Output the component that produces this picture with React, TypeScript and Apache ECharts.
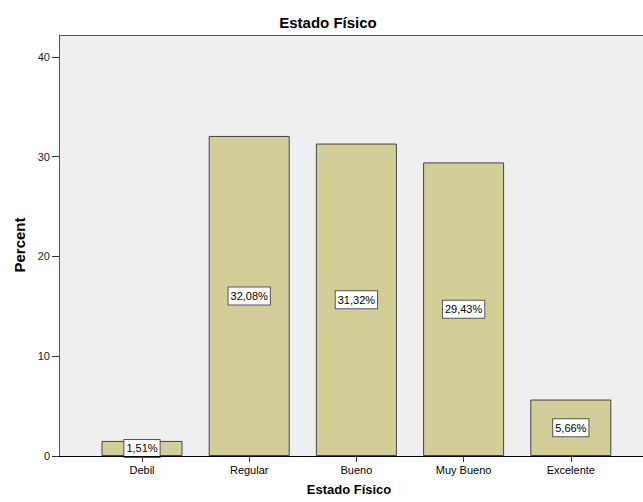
import React, { useEffect, useRef } from "react";
import * as echarts from "echarts";

const categories = ["Debil", "Regular", "Bueno", "Muy Bueno", "Excelente"];
const percents = [1.51, 32.08, 31.32, 29.43, 5.66];
const yTicks = [0, 10, 20, 30, 40];
const chartTitle = "Estado Físico";
const xName = "Estado Físico";
const yName = "Percent";

const FONT = "'Liberation Sans', Arial, sans-serif";

export default function App() {
  const ref = useRef<HTMLDivElement>(null);
  useEffect(() => {
    document.body.style.margin = "0";
    const chart = echarts.init(ref.current!, null, { renderer: "svg" });
    const W = 643;
    const H = 502;
    const plotLeft = 59;
    const plotTop = 35;
    const plotBottom = 456;
    chart.setOption({
      animation: false,
      backgroundColor: "#ffffff",
      textStyle: { fontFamily: FONT },
      title: {
        text: chartTitle,
        left: 323,
        top: 10,
        textAlign: "center",
        textStyle: { fontFamily: FONT, fontWeight: "bold", fontSize: 15, color: "#000" },
      },
      graphic: [
        {
          type: "rect",
          z: -10,
          shape: { x: plotLeft, y: plotTop, width: W - plotLeft, height: plotBottom - plotTop },
          style: { fill: "#efefef" },
          silent: true,
        },
        {
          type: "line",
          z: 10,
          shape: { x1: plotLeft, y1: plotTop + 0.5, x2: W, y2: plotTop + 0.5 },
          style: { stroke: "#555555", lineWidth: 1 },
          silent: true,
        },
        {
          type: "line",
          z: 10,
          shape: { x1: plotLeft, y1: plotBottom + 0.5, x2: W, y2: plotBottom + 0.5 },
          style: { stroke: "#000000", lineWidth: 1 },
          silent: true,
        },
        {
          type: "text",
          x: 349,
          y: 489,
          style: {
            text: xName,
            fontFamily: FONT,
            fontWeight: "bold",
            fontSize: 13,
            fill: "#000",
            align: "center",
            verticalAlign: "middle",
          },
        },
        {
          type: "text",
          x: 19,
          y: 245,
          rotation: Math.PI / 2,
          style: {
            text: yName,
            fontFamily: FONT,
            fontWeight: "bold",
            fontSize: 15,
            fill: "#000",
            align: "center",
            verticalAlign: "middle",
          },
        },
      ],
      grid: { left: 88.4, right: W - 624.4, top: plotTop, bottom: H - plotBottom, containLabel: false },
      xAxis: {
        type: "category",
        data: categories,
        axisLine: { show: true, lineStyle: { color: "#000", width: 1 } },
        axisTick: { show: true, alignWithLabel: true, length: 6, lineStyle: { color: "#333" } },
        axisLabel: { color: "#000", fontSize: 11, fontFamily: FONT, margin: 8, interval: 0 },
        splitLine: { show: false },
      },
      yAxis: {
        type: "value",
        min: 0,
        max: 42.2,
        interval: 10,
        offset: 88.4 - plotLeft,
        axisLine: { show: true, lineStyle: { color: "#555", width: 1 } },
        axisTick: { show: true, length: 7, customValues: yTicks, lineStyle: { color: "#333" } },
        axisLabel: {
          color: "#222",
          fontSize: 11,
          fontFamily: FONT,
          margin: 9,
          customValues: yTicks,
        },
        splitLine: { show: false },
      },
      series: [
        {
          type: "bar",
          data: percents,
          barWidth: 81,
          itemStyle: { color: "#d3ce97", borderColor: "#444444", borderWidth: 1 },
          label: {
            show: true,
            position: "inside",
            formatter: (p: any) => p.value.toFixed(2).replace(".", ",") + "%",
            color: "#000",
            fontSize: 11,
            fontFamily: FONT,
            backgroundColor: "#ffffff",
            borderColor: "#555555",
            borderWidth: 1,
            padding: [3, 2],
          },
        },
      ],
    });
    return () => chart.dispose();
  }, []);
  return <div ref={ref} style={{ width: 643, height: 502, position: "absolute", left: 0, top: 0 }} />;
}
